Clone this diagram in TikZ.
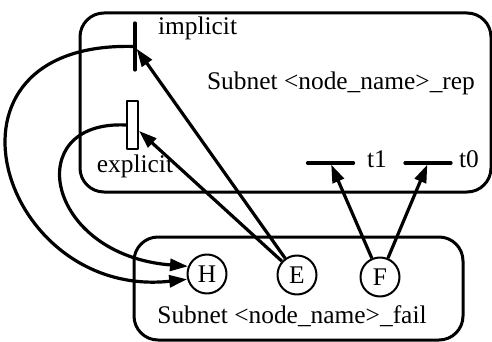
\documentclass[tikz,border=0pt]{standalone}
\usepackage{fontspec}
\setmainfont{Liberation Serif}
\usetikzlibrary{arrows.meta,positioning}
\tikzset{
 petri/.style={font=\fontsize{12.7}{15}\selectfont,line join=round},
 subnet/.style={draw,line width=1.5pt,rounded corners=12pt},
 place/.style={circle,draw,line width=1pt,fill=white,inner sep=0pt,minimum size=19.5pt},
 bar/.style={draw,line width=1.6pt,inner sep=0pt},
 vbar/.style={bar,minimum width=0pt,minimum height=23.5pt},
 hbar/.style={bar,minimum width=23pt,minimum height=0pt},
 slot/.style={draw,line width=1pt,fill=white,inner sep=0pt,minimum width=5.5pt,minimum height=24pt},
 arc/.style={line width=1.6pt,-{Triangle[length=9pt,width=6pt]}}
}

\begin{document}
\begin{tikzpicture}[petri,x=0.5pt,y=-0.5pt]
 \useasboundingbox (0,0) rectangle (492,342);
 % the two subnets
 \draw[subnet] (80,13) rectangle (491,192);
 \draw[subnet] (134,237) rectangle (463,340);
 \node[anchor=base] (repname) at (341,90) {Subnet <node\_name>\_rep};
 \node[anchor=base] (failname) at (292,323) {Subnet <node\_name>\_fail};
 % transitions of the rep subnet
 \node[vbar] (impl) at (135,46.5) {};
 \node[slot] (expl) at (132.5,125) {};
 \node[hbar] (t1) at (330.5,163) {};
 \node[hbar] (t0) at (428,163) {};
 \node[anchor=base west] (impllbl) at (151,35) {implicit};
 \node[anchor=base] (expllbl) at (135,172) {explicit};
 \node[anchor=base west] (t1lbl) at (360,167) {t1};
 \node[anchor=base west] (t0lbl) at (452,167) {t0};
 % places of the fail subnet
 \node[place] (H) at (207,274) {H};
 \node[place] (E) at (297,275) {E};
 \node[place] (F) at (380,277) {F};
 \draw[arc] (E) -- (impl);
 \draw[arc] (E) -- (expl);
 \draw[arc] (F) -- (t1);
 \draw[arc] (F) -- (t0);
 \draw[arc] (impl.center) .. controls (-80,40) and (0,300) .. (H.195);
 \draw[arc] (expl.west) .. controls (20,120) and (45,255) .. (H.158);
\end{tikzpicture}
\end{document}
